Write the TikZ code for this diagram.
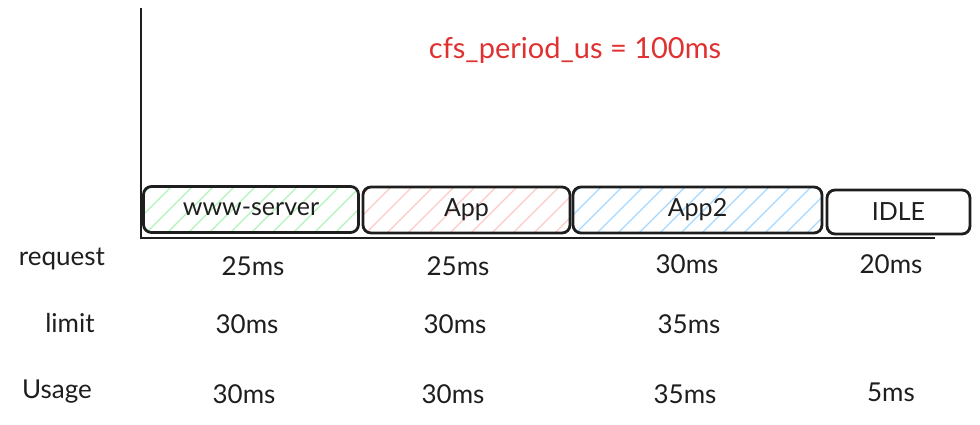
\documentclass[tikz,border=0pt]{standalone}
\usepackage{fontspec}
\setmainfont{Lato}
\definecolor{ink}{HTML}{1E1E1E}
\definecolor{redtxt}{HTML}{E03131}
\definecolor{hgreen}{HTML}{B2F2BB}
\definecolor{hred}{HTML}{FFC9C9}
\definecolor{hblue}{HTML}{A5D8FF}
\tikzset{
  slot/.style={draw=ink, line width=2.8pt, rounded corners=8pt, minimum height=46pt, inner sep=0pt, font=\fontsize{25}{28}\selectfont, text=ink},
  hatch/.style={path picture={
    \foreach \k in {-60,-39,...,260}
      \draw[#1, line width=1.3pt] ([xshift=\k pt]path picture bounding box.south west) -- ++(70pt,70pt);
  }},
  lbl/.style={font=\fontsize{26}{30}\selectfont, text=ink},
  val/.style={font=\fontsize{26}{30}\selectfont, text=ink},
  axisline/.style={draw=ink, line width=2.8pt}
}
\begin{document}
\begin{tikzpicture}[x=1pt,y=-1pt]
\useasboundingbox (0,0) rectangle (980,425);
\coordinate (ytop) at (141,8);
\coordinate (orig) at (141,238);
\coordinate (xend) at (935,238);
\draw[axisline] (ytop) -- (orig) -- (xend);

\node[text=redtxt, font=\fontsize{29}{32}\selectfont] (period) at (575,50) {cfs\_period\_us = 100ms};

\node[slot, hatch=hgreen, minimum width=215pt] (www) at (251,209.5) {www-server};
\node[slot, hatch=hred, minimum width=207pt] (app) at (466.5,210) {App};
\node[slot, hatch=hblue, minimum width=249pt] (app2) at (697.5,210) {App2};
\node[slot, minimum width=143pt, minimum height=44pt] (idle) at (898.5,212) {IDLE};

\node[lbl] (request) at (62,259) {request};
\node[lbl] (limit) at (70,323) {limit};
\node[lbl] (usage) at (57,392) {Usage};

\node[val] (r1) at (253,266) {25ms};
\node[val] (r2) at (458,266) {25ms};
\node[val] (r3) at (687,264) {30ms};
\node[val] (r4) at (891,264) {20ms};

\node[val] (l1) at (247,324) {30ms};
\node[val] (l2) at (455,324) {30ms};
\node[val] (l3) at (689,324) {35ms};

\node[val] (u1) at (244,394) {30ms};
\node[val] (u2) at (453,394) {30ms};
\node[val] (u3) at (685,394) {35ms};
\node[val] (u4) at (891,392) {5ms};
\end{tikzpicture}
\end{document}
